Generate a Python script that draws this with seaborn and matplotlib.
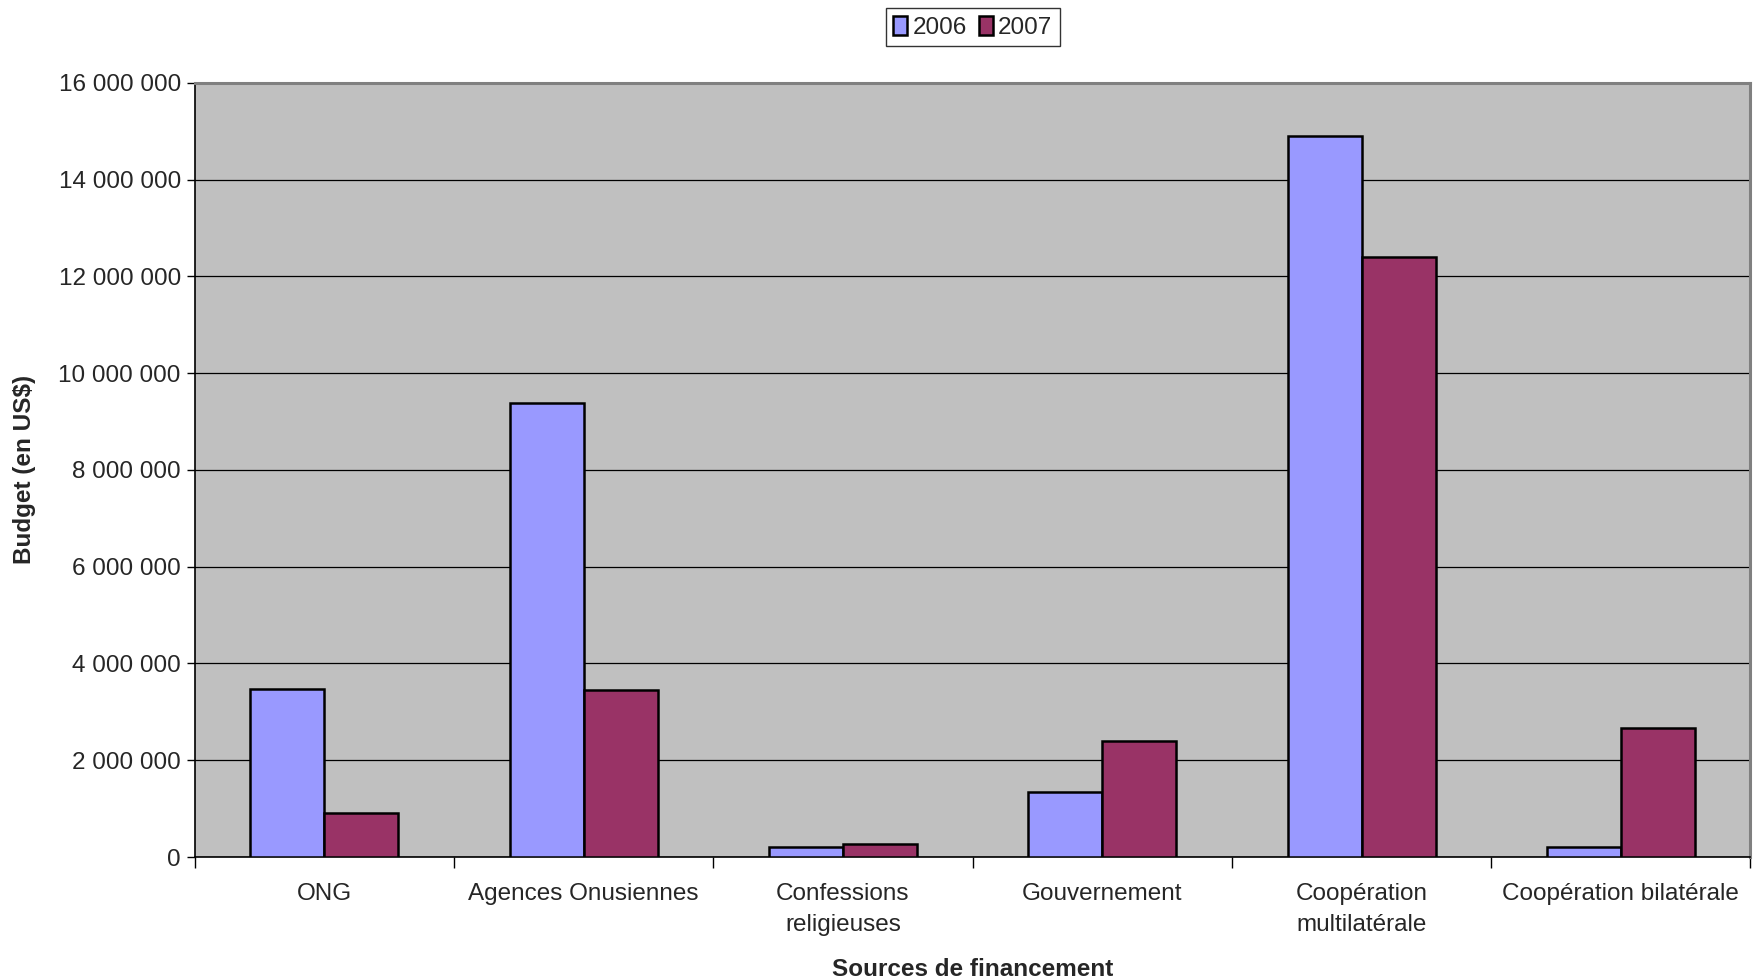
import matplotlib
matplotlib.use("Agg")
import matplotlib.pyplot as plt
import matplotlib.ticker as mticker
import seaborn as sns
import pandas as pd
import numpy as np

# Funding sources and yearly budgets (US$)
categories = ["ONG", "Agences Onusiennes", "Confessions\nreligieuses",
              "Gouvernement", "Coopération\nmultilatérale", "Coopération bilatérale"]
budget_2006 = [3480000, 9390000, 210000, 1350000, 14900000, 210000]
budget_2007 = [905000, 3460000, 270000, 2400000, 12400000, 2670000]
years = ["2006", "2007"]
y_ticks = list(range(0, 16000001, 2000000))

df = pd.DataFrame({
    "source": categories * 2,
    "annee": [years[0]] * len(categories) + [years[1]] * len(categories),
    "budget": budget_2006 + budget_2007,
})

sns.set_theme(style="white")
plt.rcParams["font.family"] = ["Liberation Sans", "DejaVu Sans"]
FS = 17.5

fig = plt.figure(figsize=(17.54, 9.8), dpi=100)
ax = fig.add_axes([0.111, 0.1255, 0.887, 0.79])

palette = {"2006": "#9999FF", "2007": "#993366"}
sns.barplot(data=df, x="source", y="budget", hue="annee", hue_order=years,
            palette=palette, width=0.571, gap=0, saturation=1,
            edgecolor="black", linewidth=1.8, ax=ax, zorder=3)

ax.set_facecolor("#C0C0C0")
ax.set_ylim(0, 16000000)
ax.set_xlim(-0.5, len(categories) - 0.5)
ax.set_yticks(y_ticks)
ax.yaxis.set_major_formatter(mticker.FuncFormatter(
    lambda v, p: f"{int(v):,}".replace(",", " ")))
ax.grid(axis="y", color="black", linewidth=0.9, zorder=1)
ax.set_axisbelow(True)

# category tick marks sit between groups
ax.set_xticks(np.arange(len(categories)))
ax.set_xticklabels(categories, fontsize=FS, linespacing=1.5)
ax.set_xticks(np.arange(-0.5, len(categories)), minor=True)
ax.tick_params(axis="x", which="major", length=0, pad=19)
ax.tick_params(axis="x", which="minor", length=8, width=1, color="black",
               direction="out", bottom=True)
ax.tick_params(axis="y", length=6, width=1, color="black", direction="out",
               left=True, labelsize=FS, pad=4)

for side in ["left", "bottom"]:
    ax.spines[side].set_color("black")
    ax.spines[side].set_linewidth(1.2)
for side in ["top", "right"]:
    ax.spines[side].set_color("#808080")
    ax.spines[side].set_linewidth(2.2)

ax.set_xlabel("Sources de financement", fontsize=FS, fontweight="bold", labelpad=16)
ax.set_ylabel("Budget (en US$)", fontsize=FS, fontweight="bold", labelpad=16)

handles, labels = ax.get_legend_handles_labels()
leg = ax.legend(handles, labels, loc="upper center", bbox_to_anchor=(0.5, 1.112),
                ncol=2, fontsize=FS, frameon=True, fancybox=False,
                edgecolor="black", handlelength=0.6, handleheight=0.85,
                handletextpad=0.2, columnspacing=0.5, borderpad=0.3)
leg.get_frame().set_linewidth(1.0)
leg.get_frame().set_facecolor("white")

fig.savefig("out.png", dpi=100, facecolor="white")
